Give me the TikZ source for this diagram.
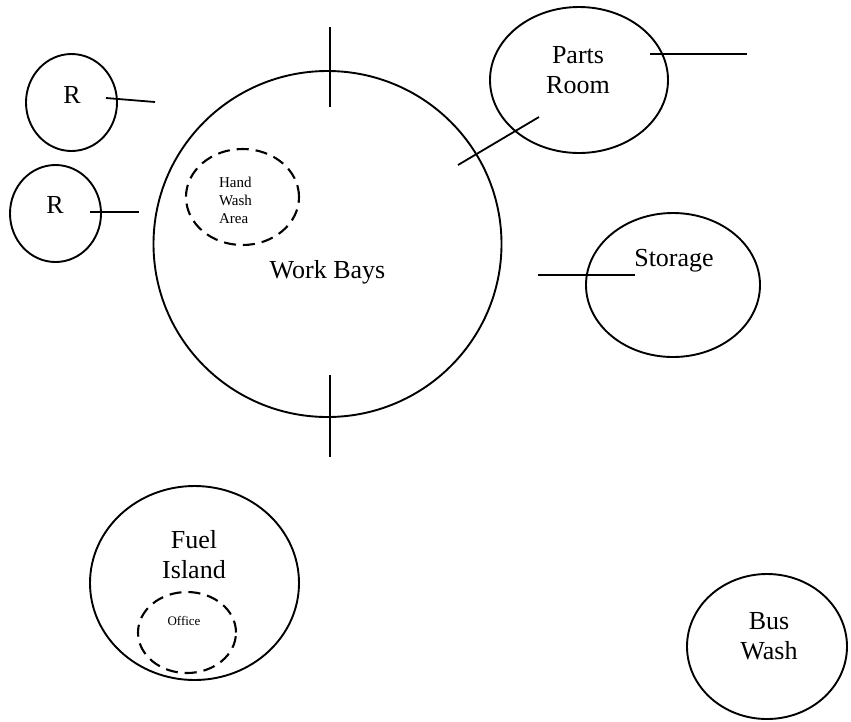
\documentclass[tikz,border=0pt]{standalone}
\usepackage{fontspec}
\setmainfont{Liberation Serif}
\usetikzlibrary{shapes.geometric}
\begin{document}
\begin{tikzpicture}[x=1pt,y=-1pt,
  area/.style={draw, ellipse, line width=1.9pt, inner sep=0pt},
  sub/.style={area, line width=2.1pt, dash pattern=on 12pt off 7pt},
  lbl/.style={font=\fontsize{26}{30}\selectfont, align=center, inner sep=0pt},
  small/.style={font=\fontsize{15}{18}\selectfont, align=left, inner sep=0pt},
  tiny/.style={font=\fontsize{13}{15}\selectfont, inner sep=0pt},
  stub/.style={line width=1.8pt}]
\useasboundingbox (0,0) rectangle (851,721);
\fill[white] (0,0) rectangle (851,721);

% areas
\node[area, minimum width=348, minimum height=346] (work) at (327.5,244) {};
\node[area, minimum width=91, minimum height=97] (r1) at (71.5,102.5) {};
\node[area, minimum width=91, minimum height=97] (r2) at (55.5,213.5) {};
\node[sub, minimum width=113, minimum height=96] (hand) at (242.5,197) {};
\node[area, minimum width=178, minimum height=146] (parts) at (579,80) {};
\node[area, minimum width=174, minimum height=144] (storage) at (673,285) {};
\node[area, minimum width=209, minimum height=194] (fuel) at (194.5,583) {};
\node[sub, minimum width=98, minimum height=81] (office) at (187,632.5) {};
\node[area, minimum width=160, minimum height=145] (bus) at (767,646.5) {};

% labels
\node[lbl, anchor=base] (workL) at (327.5,278) {Work Bays};
\node[lbl, anchor=base] (r1L) at (72,103) {R};
\node[lbl, anchor=base] (r2L) at (55,213) {R};
\node[small] (handL) at (235.5,200) {Hand\\Wash\\Area};
\node[lbl] (partsL) at (578,70) {Parts\\Room};
\node[lbl, anchor=base] (storageL) at (674,266) {Storage};
\node[lbl] (fuelL) at (194,555) {Fuel\\Island};
\node[tiny, anchor=base] (officeL) at (184,625) {Office};
\node[lbl] (busL) at (769,636) {Bus\\Wash};

% stubs
\coordinate (t1) at (330,27);  \coordinate (t2) at (330,107);
\coordinate (b1) at (330,375); \coordinate (b2) at (330,457);
\coordinate (r1a) at (106,98);  \coordinate (r1b) at (155,102);
\coordinate (r2a) at (90,212);  \coordinate (r2b) at (139,212);
\coordinate (pa) at (650,54);   \coordinate (pb) at (747,54);
\coordinate (da) at (458,165);  \coordinate (db) at (539,117);
\coordinate (sa) at (538,275);  \coordinate (sb) at (635,275);
\draw[stub] (t1) -- (t2);
\draw[stub] (b1) -- (b2);
\draw[stub] (r1a) -- (r1b);
\draw[stub] (r2a) -- (r2b);
\draw[stub] (pa) -- (pb);
\draw[stub] (da) -- (db);
\draw[stub] (sa) -- (sb);
\end{tikzpicture}
\end{document}
